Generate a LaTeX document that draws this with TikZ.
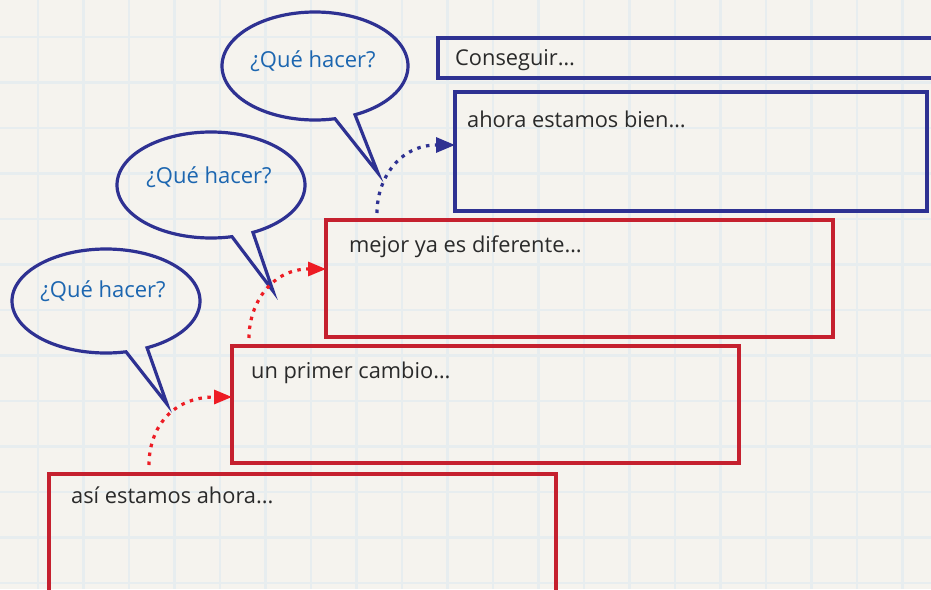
\documentclass[tikz,border=0pt]{standalone}
\usepackage{fontspec}
\setmainfont{Open Sans}
\usetikzlibrary{arrows.meta}
\definecolor{bgc}{HTML}{F5F3EE}
\definecolor{gridc}{HTML}{E7EDEF}
\definecolor{bblue}{HTML}{2E3192}
\definecolor{rbox}{HTML}{C5202E}
\definecolor{rarr}{HTML}{ED1C24}
\definecolor{qtext}{HTML}{1C66B0}
\definecolor{btext}{HTML}{2A2A2A}
\begin{document}
\begin{tikzpicture}[x=1pt,y=-1pt,
  boxline/.style={draw, line width=3.3pt, inner sep=0pt, outer sep=0pt, anchor=north west},
  bluebox/.style={boxline, draw=bblue},
  redbox/.style={boxline, draw=rbox},
  boxtext/.style={anchor=base west, inner sep=0pt, text=btext, font=\fontsize{21.8}{26}\selectfont},
  qtxt/.style={anchor=base, inner sep=0pt, text=qtext, font=\fontsize{22}{26}\selectfont},
  bubble/.style={draw=bblue, line width=3.2pt, line join=miter},
  dotarrow/.style={line width=3.2pt, dash pattern=on 3.5pt off 5.5pt},
  bluearrow/.style={dotarrow, draw=bblue, -{Triangle[length=19pt,width=15pt,fill=bblue]}},
  redarrow/.style={dotarrow, draw=rarr, -{Triangle[length=18pt,width=14pt,fill=rarr]}}]
\fill[bgc] (0,0) rectangle (931,589);
\useasboundingbox (0,0) rectangle (931,589);
\begin{scope}
\clip (0,0) rectangle (931,589);
\foreach \i in {-1,...,21} {
  \draw[gridc, line width=2.5pt] ({38+45.5*\i},0) -- ({38+45.5*\i},589);
}
\foreach \i in {-1,...,13} {
  \draw[gridc, line width=2.5pt] (0,{37+45.5*\i}) -- (931,{37+45.5*\i});
}
% boxes
\node[bluebox, minimum width=507pt, minimum height=40pt] (b1) at (438,38) {};
\node[bluebox, minimum width=472pt, minimum height=119pt] (b2) at (455,92) {};
\node[redbox, minimum width=507pt, minimum height=117pt] (b3) at (326,220) {};
\node[redbox, minimum width=507pt, minimum height=117pt] (b4) at (232,346) {};
\node[redbox, minimum width=507pt, minimum height=136pt] (b5) at (49,474) {};
% box texts
\node[boxtext] (t1) at (455,65) {Conseguir…};
\node[boxtext] (t2) at (467,127) {ahora estamos bien…};
\node[boxtext] (t3) at (349,252) {mejor ya es diferente…};
\node[boxtext] (t4) at (251,378) {un primer cambio…};
\node[boxtext] (t5) at (71,503) {así estamos ahora...};
% bubbles
\draw[bubble] plot[domain=64.5:-282.4, samples=120, smooth] ({315+93*cos(\x)},{66+54*sin(\x)}) -- (378,173) -- cycle;
\draw[bubble] plot[domain=63.5:-282.9, samples=120, smooth] ({211+94*cos(\x)},{185+53*sin(\x)}) -- (273,291) -- cycle;
\draw[bubble] plot[domain=64.1:-282.3, samples=120, smooth] ({106+94*cos(\x)},{301+52*sin(\x)}) -- (167,404) -- cycle;
\node[qtxt] (q1) at (313,67) {¿Qué hacer?};
\node[qtxt] (q2) at (209,183) {¿Qué hacer?};
\node[qtxt] (q3) at (103,297) {¿Qué hacer?};
% arrows
\coordinate (s1) at (377,213);
\coordinate (e1) at (b2.west |- 0,145);
\coordinate (s2) at (249,338);
\coordinate (e2) at (b3.west |- 0,269);
\coordinate (s3) at (149,465);
\coordinate (e3) at (b4.west |- 0,397);
\draw[bluearrow] (s1) .. controls (377,178) and (400,145) .. (e1);
\draw[redarrow] (s2) .. controls (249,303) and (272,269) .. (e2);
\draw[redarrow] (s3) .. controls (149,428) and (172,397) .. (e3);
\end{scope}
\end{tikzpicture}
\end{document}
